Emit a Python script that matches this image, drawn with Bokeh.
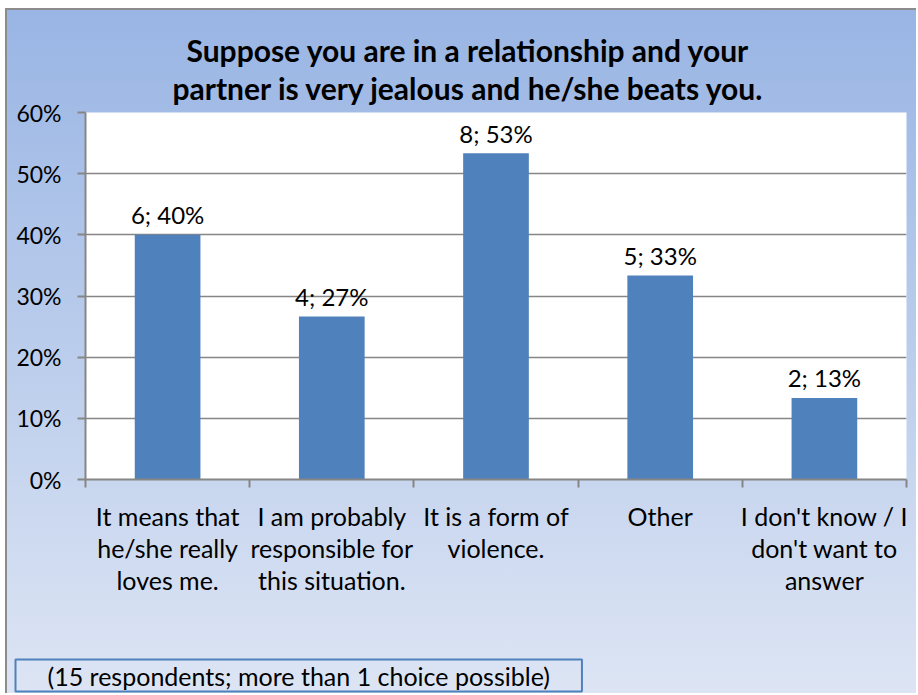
from bokeh.plotting import figure
from bokeh.models import FixedTicker, NumeralTickFormatter, Range1d, Title, ColumnDataSource
from bokeh.core.properties import value
from bokeh.embed import file_html
from bokeh.resources import INLINE

# ---- data ----
categories = [
    "It means that\nhe/she really\nloves me.",
    "I am probably\nresponsible for\nthis situation.",
    "It is a form of\nviolence.",
    "Other",
    "I don't know / I\ndon't want to\nanswer",
]
counts = [6, 4, 8, 5, 2]
respondents = 15
percents = [c / respondents for c in counts]
y_ticks = [0, 0.1, 0.2, 0.3, 0.4, 0.5, 0.6]
title_lines = ["Suppose you are in a relationship and your",
               "partner is very jealous and he/she beats you."]
note = "(15 respondents; more than 1 choice possible)"

FONT = "Lato"
W, H = 911, 685

n = len(categories)
xs = [i + 0.5 for i in range(n)]
labels = [f"{c}; {round(p * 100)}%" for c, p in zip(counts, percents)]

p = figure(width=W, height=H, output_backend="svg", toolbar_location=None,
           x_range=Range1d(0, n), y_range=Range1d(0, 0.6),
           min_border_left=78, min_border_right=12, min_border_top=102,
           min_border_bottom=216, title=None)
p.margin = (8, 0, 0, 5)
p.styles = {"background": "linear-gradient(to bottom, #99B5E4 0%, #DDE5F4 100%)",
            "border-top": "2px solid #8C8C8C", "border-left": "2px solid #8C8C8C"}
p.border_fill_alpha = 0
p.background_fill_color = "white"
p.outline_line_color = None

src = ColumnDataSource(dict(x=xs, top=percents, label=labels))
p.vbar(x="x", top="top", width=0.4, source=src, fill_color="#4F81BD", line_color=None)
p.text(x="x", y="top", text="label", source=src, text_align="center",
       text_baseline="alphabetic", y_offset=-20, text_font=value(FONT),
       text_font_size="24px", text_color="black")

# y axis
ya = p.yaxis[0]
ya.ticker = FixedTicker(ticks=y_ticks)
ya.formatter = NumeralTickFormatter(format="0%")
ya.major_tick_out = 8
ya.major_tick_in = 0
ya.minor_tick_line_color = None
ya.axis_line_color = "#868686"
ya.axis_line_width = 2
ya.major_tick_line_color = "#868686"
ya.major_tick_line_width = 2
ya.major_label_text_font = FONT
ya.major_label_text_font_size = "23px"
ya.major_label_text_color = "black"
ya.major_label_standoff = 16

# x axis: labels at centres, ticks at boundaries
xa = p.xaxis[0]
xa.ticker = FixedTicker(ticks=xs, minor_ticks=list(range(n + 1)))
xa.major_label_overrides = {x: c for x, c in zip(xs, categories)}
xa.major_tick_line_color = None
xa.minor_tick_out = 8
xa.minor_tick_in = 0
xa.minor_tick_line_color = "#868686"
xa.minor_tick_line_width = 2
xa.axis_line_color = "#868686"
xa.axis_line_width = 2
xa.major_label_text_font = FONT
xa.major_label_text_font_size = "25px"
xa.major_label_text_color = "black"
xa.major_label_text_line_height = 1.07
xa.major_label_standoff = 13

p.xgrid.grid_line_color = None
p.ygrid.ticker = FixedTicker(ticks=y_ticks)
p.ygrid.grid_line_color = "#868686"
p.ygrid.grid_line_width = 1.5

# title: nearest line first (left-aligned with offsets to centre each line)
for t, off, so in zip(reversed(title_lines), [87, 101], [14, -14]):
    p.add_layout(Title(text=t, align="left", offset=off, standoff=so,
                       text_font=FONT, text_font_style="bold", text_font_size="30px",
                       text_color="black"), "above")

# spacer between axis labels and note box
p.add_layout(Title(text=" ", standoff=47, text_font_size="10px"), "below")
# note box
p.add_layout(Title(text=note, align="left", offset=-70, standoff=0,
                   text_font=FONT, text_font_style="normal", text_font_size="25px",
                   text_color="black", border_line_color="#4F81BD", border_line_width=2,
                   background_fill_alpha=0, padding=(32, 1)), "below")

open("out.html", "w").write(file_html(p, INLINE))
